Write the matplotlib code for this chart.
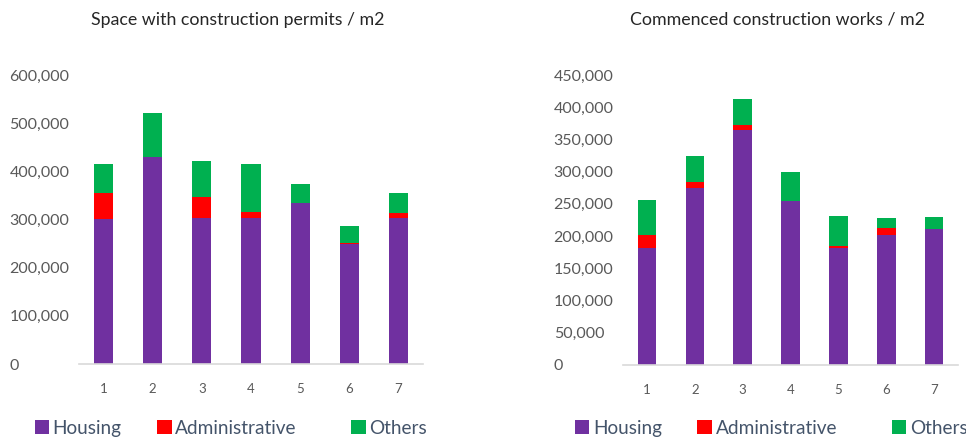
import numpy as np
import matplotlib
matplotlib.use('Agg')
import matplotlib.pyplot as plt
from matplotlib.ticker import FuncFormatter

periods = ['1', '2', '3', '4', '5', '6', '7']
series_names = ['Housing', 'Administrative', 'Others']
colors = ['#7030A0', '#FF0000', '#00B050']

# space with construction permits, m2
permits_housing = [302000, 430000, 303000, 303000, 335000, 250000, 303000]
permits_admin = [53000, 0, 44000, 13000, 0, 2000, 11000]
permits_others = [61000, 92000, 75000, 99000, 39000, 34000, 41000]

# commenced construction works, m2
works_housing = [181000, 275000, 364000, 254000, 181000, 202000, 211000]
works_admin = [21000, 9000, 8000, 0, 3000, 11000, 0]
works_others = [54000, 40000, 40000, 46000, 47000, 15000, 19000]

plt.rcParams['font.family'] = ['Lato', 'DejaVu Sans']

fig = plt.figure(figsize=(9.66, 4.37), dpi=100)

panels = [
    ('Space with construction permits / m2', [permits_housing, permits_admin, permits_others],
     [0.0818, 0.167, 0.356, 0.661], 600000, 100000, 0.246, 0.0358),
    ('Commenced construction works / m2', [works_housing, works_admin, works_others],
     [0.645, 0.165, 0.3468, 0.6636], 450000, 50000, 0.805, 0.595),
]

for title, data, rect, ymax, step, tx, left in panels:
    ax = fig.add_axes(rect)
    x = np.arange(1, len(periods) + 1)
    bottom = np.zeros(len(periods))
    handles = []
    for vals, name, c in zip(data, series_names, colors):
        b = ax.bar(x, vals, 0.39, bottom=bottom, color=c, label=name, zorder=2)
        handles.append(b)
        bottom += np.array(vals)
    ax.set_xlim(0.5, len(periods) + 0.5)
    ax.set_ylim(0, ymax)
    ax.set_yticks(np.arange(0, ymax + 1, step))
    ax.yaxis.set_major_formatter(FuncFormatter(lambda v, p: '{:,.0f}'.format(v)))
    ax.set_xticks(x)
    ax.set_xticklabels(periods)
    for s in ['top', 'right', 'left']:
        ax.spines[s].set_visible(False)
    ax.spines['bottom'].set_color('#D9D9D9')
    ax.spines['bottom'].set_linewidth(1.2)
    ax.tick_params(axis='y', length=0, pad=50, labelsize=11.5, labelcolor='#595959')
    ax.tick_params(axis='x', length=0, pad=14, labelsize=9.5, labelcolor='#595959')
    for lab in ax.get_yticklabels():
        lab.set_ha('left')
    fig.text(tx, 0.955, title, ha='center', va='center', fontsize=12.8, color='#262626')

    # legend entries spread out like the original
    offs = [0.0, 0.127, 0.328]
    for h, off in zip(handles, offs):
        fig.legend(handles=[h], labels=[h.get_label()], loc='center left',
                   bbox_to_anchor=(left + off, 0.02), frameon=False, fontsize=13.7,
                   handlelength=0.75, handleheight=0.75, handletextpad=0.2,
                   borderaxespad=0, borderpad=0, labelcolor='#44546A')

fig.savefig('out.png', dpi=100)
